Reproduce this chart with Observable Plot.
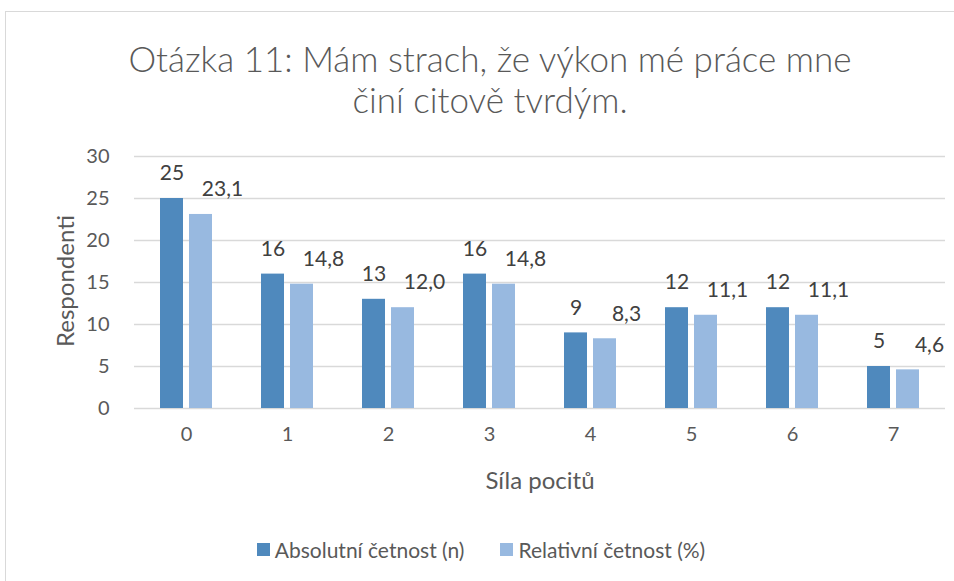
<!DOCTYPE html>
<html>
<head>
<meta charset="utf-8">
<script src="https://cdn.jsdelivr.net/npm/d3@7"></script>
<script src="https://cdn.jsdelivr.net/npm/@observablehq/plot@0.6"></script>
<style>
  html, body { margin: 0; padding: 0; background: #fff; width: 954px; height: 581px; overflow: hidden; font-family: Lato, "Open Sans", sans-serif; }
  #frame { position: absolute; left: 5px; top: 11px; width: 980px; height: 600px; border: 1px solid #d9d9d9; box-sizing: border-box; }
  #title { position: absolute; left: 90px; width: 800px; top: 38px; text-align: center; font-size: 35px; font-weight: 300; line-height: 41px; color: #595959; }
  #chart { position: absolute; left: 0; top: 140px; }
  #ytitle { position: absolute; left: 64px; top: 281px; transform: translate(-50%, -50%) rotate(-90deg); font-size: 24px; color: #595959; white-space: nowrap; }
  #xtitle { position: absolute; left: 540px; top: 479px; transform: translate(-50%, -50%); font-size: 24px; color: #595959; white-space: nowrap; }
  #legend { position: absolute; left: 0; width: 954px; top: 535px; text-align: center; font-size: 21px; color: #595959; padding-left: 8px; box-sizing: border-box;}
  .li { display: inline-flex; align-items: center; margin: 0 18px; }
  .sw { width: 13px; height: 13px; margin-right: 5px; display: inline-block; }
</style>
</head>
<body>
<div id="frame"></div>
<div id="title">Otázka 11: Mám strach, že výkon mé práce mne<br>činí citově tvrdým.</div>
<div id="chart"></div>
<div id="ytitle">Respondenti</div>
<div id="xtitle">Síla pocitů</div>
<div id="legend"></div>
<script>
const categories = ["0", "1", "2", "3", "4", "5", "6", "7"];
const absolute = [25, 16, 13, 16, 9, 12, 12, 5];
const relative = [23.1, 14.8, 12.0, 14.8, 8.3, 11.1, 11.1, 4.6];
const seriesNames = ["Absolutní četnost (n)", "Relativní četnost (%)"];
const yTicks = [0, 5, 10, 15, 20, 25, 30];

const colors = ["#4f89bd", "#98b9e0"];

const absData = categories.map((c, i) => ({cat: c, v: absolute[i]}));
const relData = categories.map((c, i) => ({cat: c, v: relative[i]}));
const fmtRel = v => v.toFixed(1).replace(".", ",");

const chart = Plot.plot({
  width: 954,
  height: 360,
  marginLeft: 134,
  marginRight: 9,
  marginTop: 16,
  marginBottom: 92,
  style: { fontFamily: "Lato, 'Open Sans', sans-serif", fontSize: "20px", color: "#595959", background: "transparent" },
  x: { domain: categories, paddingInner: 0.487, paddingOuter: 0.2435, label: null },
  y: { domain: [0, 30], label: null },
  marks: [
    Plot.gridY(yTicks, { stroke: "#d9d9d9", strokeOpacity: 1, strokeWidth: 1.5 }),
    Plot.axisY(yTicks, { tickSize: 0, tickPadding: 25, fontSize: 20, fill: "#595959", label: null }),
    Plot.axisX({ tickSize: 0, tickPadding: 18, fontSize: 20, fill: "#595959", label: null }),
    Plot.barY(absData, { x: "cat", y: "v", fill: colors[0], insetRight: 29, insetLeft: 0 }),
    Plot.barY(relData, { x: "cat", y: "v", fill: colors[1], insetLeft: 29, insetRight: 0 }),
    Plot.text(absData, { x: "cat", y: "v", text: d => String(d.v), dx: -14.5, dy: -25, fill: "#404040", fontSize: 21 }),
    Plot.text(relData, { x: "cat", y: "v", text: d => fmtRel(d.v), dx: 36, dy: -25, fill: "#404040", fontSize: 21 })
  ]
});
document.getElementById("chart").appendChild(chart);

const legend = document.getElementById("legend");
seriesNames.forEach((n, i) => {
  const s = document.createElement("span");
  s.className = "li";
  s.innerHTML = `<span class="sw" style="background:${colors[i]}"></span>${n}`;
  legend.appendChild(s);
});
</script>
</body>
</html>
